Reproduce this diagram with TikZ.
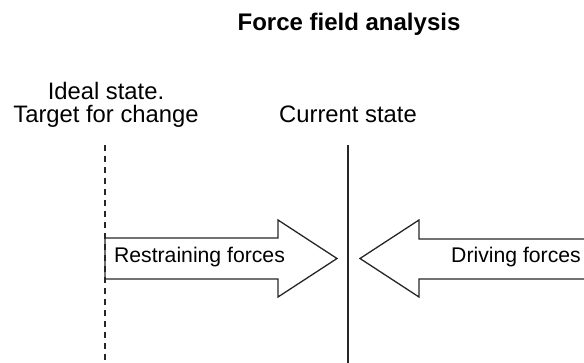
\documentclass[tikz,border=0pt]{standalone}
\usepackage{fontspec}
\setmainfont{Liberation Sans}
\usepackage{tikz}

\begin{document}
\begin{tikzpicture}[x=0.5pt, y=-0.5pt, line width=0.6pt,
  every node/.style={inner sep=0pt, text=black},
  statelabel/.style={align=center, font=\fontsize{11.9}{11.5}\selectfont},
  forcetext/.style={font=\fontsize{10.6}{12}\selectfont},
  forcearrow/.style={draw=black!85, line width=0.65pt, line join=miter}]
\clip (0,0) rectangle (584,363);
% title
\node[font=\bfseries\fontsize{12}{14}\selectfont] (title) at (349,24) {Force field analysis};
% the two states and their lines
\node[statelabel] (ideal) at (106,104.5) {Ideal state.\\Target for change};
\node[statelabel] (current) at (348,114) {Current state};
\coordinate (idealtop) at (105,145); \coordinate (idealbot) at (105,363);
\coordinate (currenttop) at (348,145); \coordinate (currentbot) at (348,363);
\draw[black!85, dash pattern=on 3pt off 2.5pt] (idealtop) -- (idealbot);
\draw[black!85] (currenttop) -- (currentbot);
% the two block arrows, pushing against the current state
\draw[forcearrow] (105,238) -- (278,238) -- (278,220) -- (337,258.5) -- (278,297) -- (278,279) -- (105,279) -- cycle;
\draw[forcearrow] (600,239) -- (419,239) -- (419,220) -- (360,258.5) -- (419,297) -- (419,279) -- (600,279);
\node[forcetext] (restrain) at (199.5,257) {Restraining forces};
\node[forcetext] (drive) at (516,257) {Driving forces};
\end{tikzpicture}
\end{document}
